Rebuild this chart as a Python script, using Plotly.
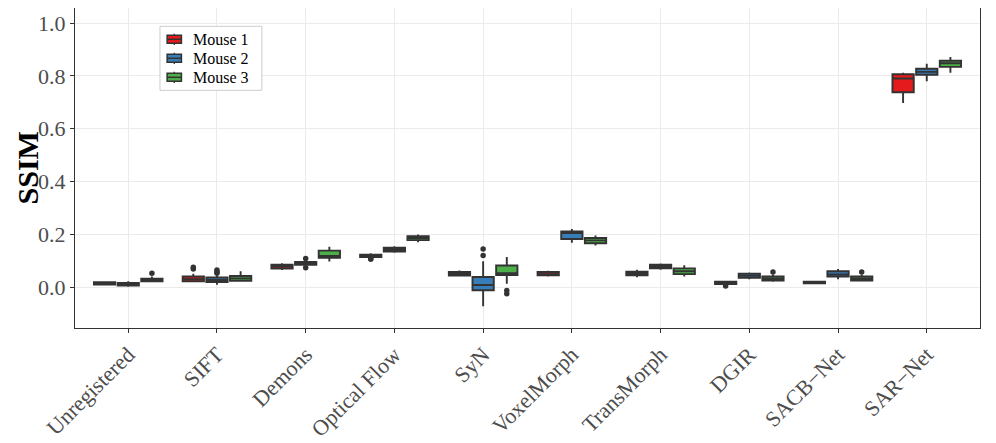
import plotly.graph_objects as go

categories = ["Unregistered", "SIFT", "Demons", "Optical Flow", "SyN", "VoxelMorph",
              "TransMorph", "DGIR", "SACB\u2212Net", "SAR\u2212Net"]
mice = ["Mouse 1", "Mouse 2", "Mouse 3"]
colors = ["#E41A1C", "#377EB8", "#4DAF4A"]

# Mouse 1 box statistics
low_m1 = [0.008, 0.018, 0.065, 0.112, 0.040, 0.040, 0.037, 0.010, 0.012, 0.697]
q1_m1 = [0.010, 0.022, 0.070, 0.114, 0.044, 0.045, 0.045, 0.011, 0.014, 0.738]
med_m1 = [0.014, 0.030, 0.078, 0.118, 0.050, 0.049, 0.051, 0.016, 0.017, 0.790]
q3_m1 = [0.018, 0.040, 0.085, 0.123, 0.057, 0.057, 0.058, 0.020, 0.020, 0.806]
high_m1 = [0.020, 0.050, 0.090, 0.128, 0.063, 0.062, 0.066, 0.022, 0.022, 0.812]
out_m1 = [[], [0.068, 0.075], [], [0.105, 0.108], [], [], [], [0.004], [], []]

# Mouse 2 box statistics
low_m2 = [0.001, 0.009, 0.082, 0.130, -0.073, 0.168, 0.066, 0.030, 0.030, 0.780]
q1_m2 = [0.006, 0.019, 0.084, 0.135, -0.012, 0.182, 0.071, 0.035, 0.040, 0.804]
med_m2 = [0.011, 0.027, 0.089, 0.142, 0.008, 0.205, 0.078, 0.043, 0.048, 0.815]
q3_m2 = [0.016, 0.036, 0.095, 0.149, 0.038, 0.211, 0.085, 0.051, 0.060, 0.827]
high_m2 = [0.022, 0.045, 0.100, 0.155, 0.098, 0.220, 0.089, 0.055, 0.068, 0.846]
out_m2 = [[], [0.052, 0.058, 0.065], [0.108, 0.073], [], [0.120, 0.144], [], [], [], [], []]

# Mouse 3 box statistics
low_m3 = [0.018, 0.020, 0.097, 0.170, 0.013, 0.157, 0.040, 0.020, 0.022, 0.812]
q1_m3 = [0.022, 0.024, 0.111, 0.178, 0.046, 0.166, 0.049, 0.025, 0.025, 0.834]
med_m3 = [0.027, 0.033, 0.118, 0.186, 0.053, 0.177, 0.060, 0.032, 0.032, 0.848]
q3_m3 = [0.032, 0.042, 0.138, 0.193, 0.082, 0.186, 0.071, 0.040, 0.040, 0.857]
high_m3 = [0.040, 0.060, 0.153, 0.199, 0.114, 0.195, 0.083, 0.048, 0.048, 0.871]
out_m3 = [[0.052], [], [], [], [-0.013, -0.025], [], [], [0.057], [0.057], []]

y_ticks = [0.0, 0.2, 0.4, 0.6, 0.8, 1.0]

stats = [
    (low_m1, q1_m1, med_m1, q3_m1, high_m1, out_m1),
    (low_m2, q1_m2, med_m2, q3_m2, high_m2, out_m2),
    (low_m3, q1_m3, med_m3, q3_m3, high_m3, out_m3),
]

dodge = 0.8 / 3
box_w = dodge * 0.9
outline = "#333333"

fig = go.Figure()
for m, (lo, q1, md, q3, hi, outs) in enumerate(stats):
    offset = (m - 1) * dodge
    xs = [i + offset for i in range(len(categories))]
    fig.add_trace(go.Box(
        x=xs, q1=q1, median=md, q3=q3, lowerfence=lo, upperfence=hi,
        name=mice[m], fillcolor=colors[m],
        line=dict(color=outline, width=1.9), width=box_w, whiskerwidth=0,
        boxpoints=False, showlegend=False,
    ))
    ox, oy = [], []
    for i, vals in enumerate(outs):
        for v in vals:
            ox.append(i + offset)
            oy.append(v)
    fig.add_trace(go.Scatter(
        x=ox, y=oy, mode="markers", showlegend=False,
        marker=dict(color=outline, size=5.5),
    ))

# Legend drawn in the ggplot style (compact keys)
shapes = [dict(type="rect", xref="paper", yref="paper", x0=0.0939, x1=0.2065,
               y0=0.7428, y1=0.9428, line=dict(color="#CCCCCC", width=1),
               fillcolor="white", layer="above")]
annotations = []
row_y = [0.9022, 0.8428, 0.7834]
kx0, kx1 = 0.1018, 0.1176
kxc = (kx0 + kx1) / 2
for m in range(3):
    yc = row_y[m]
    shapes.append(dict(type="line", xref="paper", yref="paper", x0=kxc, x1=kxc,
                       y0=yc - 0.0175, y1=yc + 0.0175,
                       line=dict(color=outline, width=1.3), layer="above"))
    shapes.append(dict(type="rect", xref="paper", yref="paper", x0=kx0, x1=kx1,
                       y0=yc - 0.0125, y1=yc + 0.0125, fillcolor=colors[m],
                       line=dict(color=outline, width=1.5), layer="above"))
    shapes.append(dict(type="line", xref="paper", yref="paper", x0=kx0, x1=kx1,
                       y0=yc, y1=yc, line=dict(color=outline, width=1.5), layer="above"))
    annotations.append(dict(xref="paper", yref="paper", x=0.1294, y=yc,
                            xanchor="left", yanchor="middle", showarrow=False,
                            borderpad=0,
                            text=mice[m], font=dict(size=16, color="black")))

# Y-axis title
annotations.append(dict(xref="paper", yref="paper", x=-0.0525, y=0.5,
                        xanchor="center", yanchor="middle", showarrow=False,
                        textangle=-90, text="<b>SSIM</b>", borderpad=0,
                        font=dict(size=30, color="black")))

fig.update_layout(
    width=988, height=435,
    margin=dict(l=67, r=16, t=0, b=115),
    plot_bgcolor="white", paper_bgcolor="white",
    font=dict(family="Liberation Serif", color="#4D4D4D"),
    boxmode="overlay", showlegend=False,
    shapes=shapes, annotations=annotations,
)
fig.update_xaxes(
    range=[-0.6, 9.6], tickvals=list(range(len(categories))), ticktext=categories,
    tickangle=-45, tickfont=dict(size=22, color="#4D4D4D"),
    showgrid=True, gridcolor="#EBEBEB", gridwidth=1.2,
    ticks="outside", ticklen=4, tickcolor=outline,
    showline=True, linecolor=outline, linewidth=1.2, mirror=True, zeroline=False,
    automargin=False,
)
fig.update_yaxes(
    range=[-0.155, 1.057], tickvals=y_ticks, tickformat=".1f",
    tickfont=dict(size=22, color="#4D4D4D"),
    showgrid=True, gridcolor="#EBEBEB", gridwidth=1.2,
    ticks="outside", ticklen=4, tickcolor=outline,
    showline=True, linecolor=outline, linewidth=1.2, mirror=True, zeroline=False,
    automargin=False,
)

fig.write_html("out.html")
